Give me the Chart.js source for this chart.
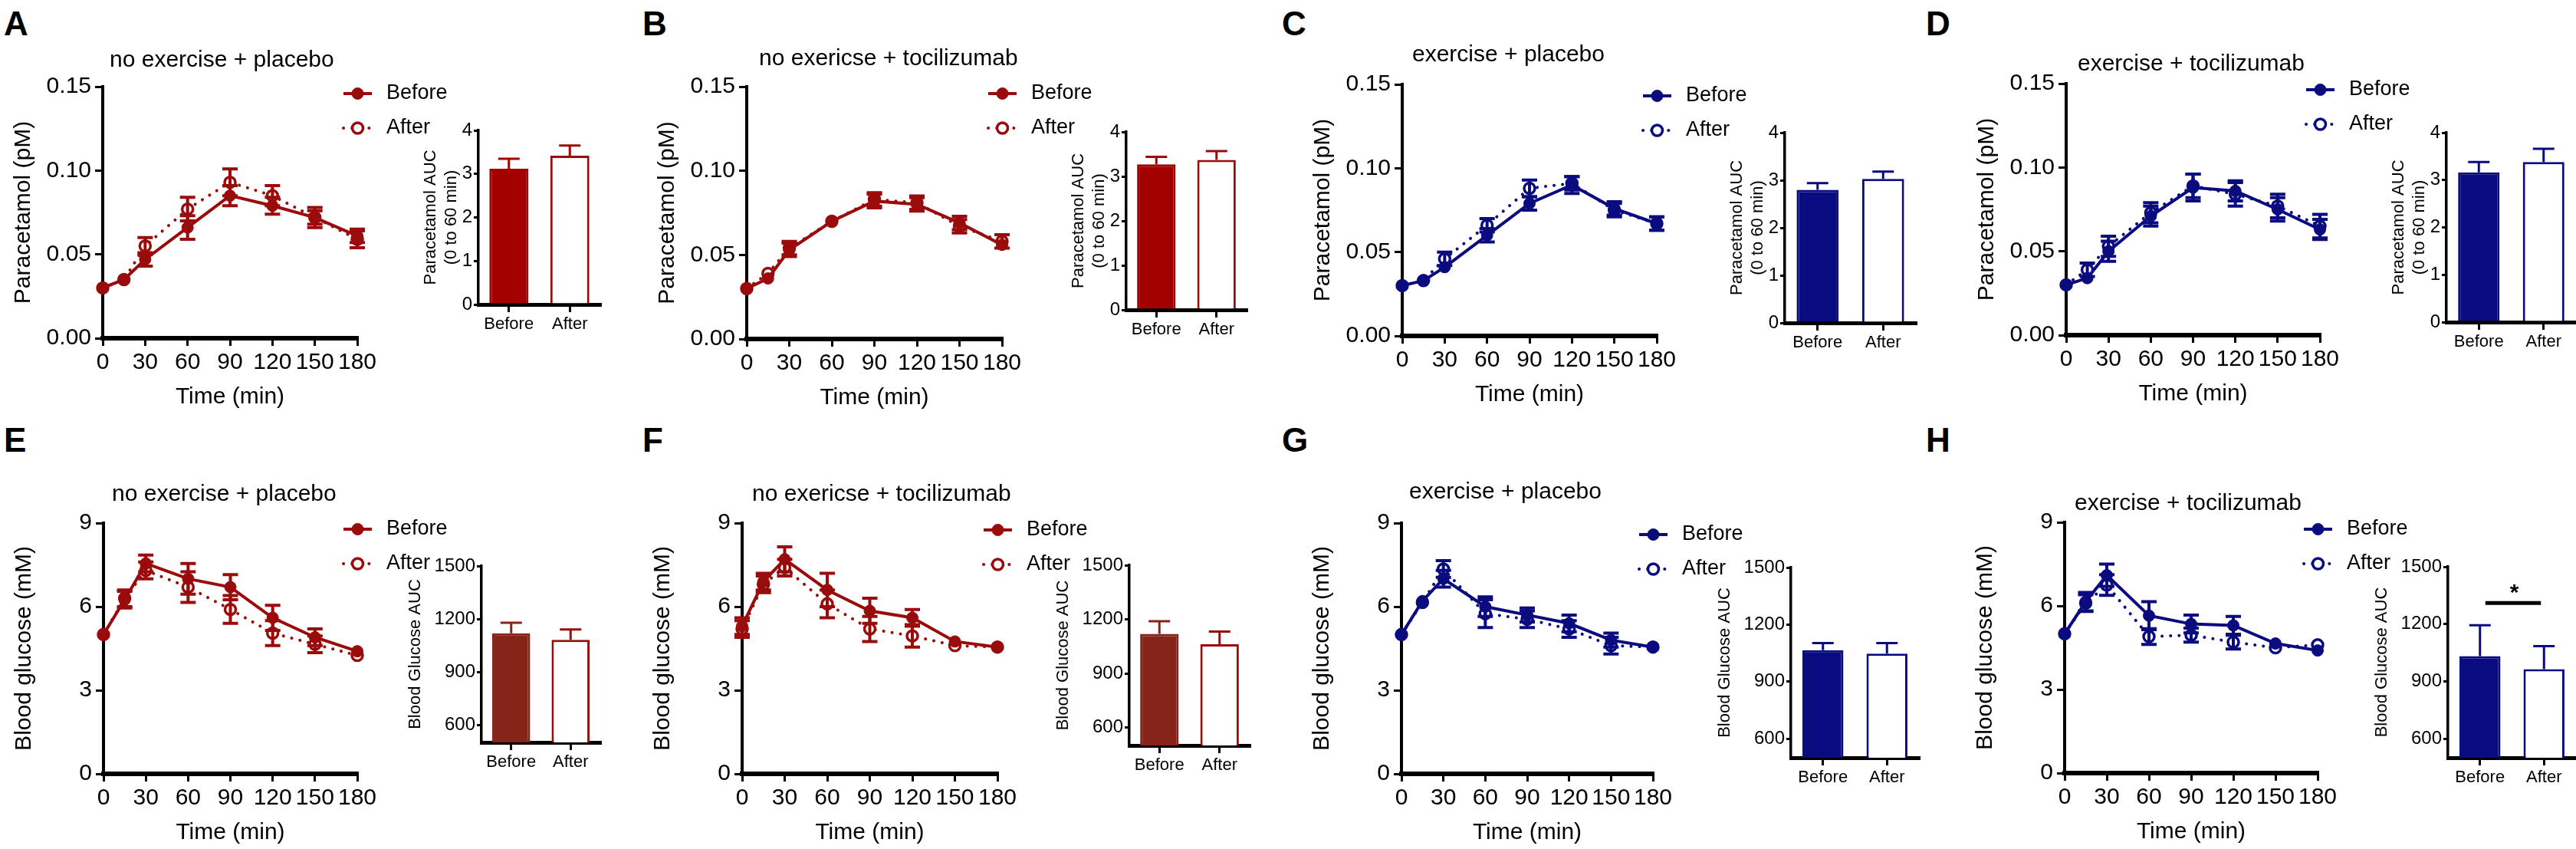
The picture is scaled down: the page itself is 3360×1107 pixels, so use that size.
<!DOCTYPE html>
<html>
<head>
<meta charset="utf-8">
<script src="https://cdn.jsdelivr.net/npm/chart.js@4.4.1/dist/chart.umd.min.js"></script>
<style>
  html, body { margin: 0; padding: 0; background: #fff; }
  #fig { position: relative; width: 3360px; height: 1107px; overflow: hidden; background: #fff;
         font-family: "Liberation Sans", Arial, sans-serif; color: #000; }
  #fig canvas { position: absolute; }
  .letter { position: absolute; font-weight: bold; font-size: 44px; line-height: 44px; }
  .title { position: absolute; font-size: 30px; line-height: 30px; white-space: nowrap; }
</style>
</head>
<body>
<div id="fig"></div>
<script>
// shared axes
const timePoints = [0, 15, 30, 60, 90, 120, 150, 180];
const timeTicks = [0, 30, 60, 90, 120, 150, 180];
const groupLabels = ['Before', 'After'];
const paraTicks = [0, 0.05, 0.10, 0.15];
const glucoseTicks = [0, 3, 6, 9];
const paraAucTicks = [0, 1, 2, 3, 4];
const glucoseAucTicks = [600, 900, 1200, 1500];

const panelLetters = ['A', 'B', 'C', 'D', 'E', 'F', 'G', 'H'];
const panelTitles = [
  'no exercise + placebo', 'no exericse + tocilizumab', 'exercise + placebo', 'exercise + tocilizumab',
  'no exercise + placebo', 'no exericse + tocilizumab', 'exercise + placebo', 'exercise + tocilizumab'
];

// paracetamol (pM), mean and SEM
const paraA_before = [0.030, 0.035, 0.047, 0.066, 0.085, 0.079, 0.072, 0.061];
const paraA_beforeSem = [0.001, 0.002, 0.004, 0.007, 0.006, 0.005, 0.006, 0.004];
const paraA_after = [0.030, 0.035, 0.055, 0.077, 0.093, 0.085, 0.072, 0.059];
const paraA_afterSem = [0.001, 0.002, 0.005, 0.007, 0.008, 0.006, 0.004, 0.005];

const paraB_before = [0.030, 0.036, 0.053, 0.070, 0.082, 0.080, 0.069, 0.056];
const paraB_beforeSem = [0.001, 0.003, 0.004, 0.003, 0.004, 0.004, 0.004, 0.003];
const paraB_after = [0.030, 0.039, 0.054, 0.070, 0.083, 0.081, 0.067, 0.058];
const paraB_afterSem = [0.001, 0.003, 0.004, 0.003, 0.004, 0.004, 0.004, 0.004];

const paraC_before = [0.030, 0.033, 0.041, 0.060, 0.079, 0.090, 0.076, 0.067];
const paraC_beforeSem = [0.001, 0.002, 0.003, 0.004, 0.004, 0.005, 0.004, 0.004];
const paraC_after = [0.030, 0.033, 0.046, 0.066, 0.088, 0.091, 0.075, 0.067];
const paraC_afterSem = [0.001, 0.002, 0.004, 0.004, 0.005, 0.004, 0.004, 0.004];

const paraD_before = [0.030, 0.034, 0.050, 0.071, 0.088, 0.086, 0.075, 0.063];
const paraD_beforeSem = [0.001, 0.003, 0.006, 0.006, 0.008, 0.006, 0.007, 0.006];
const paraD_after = [0.030, 0.039, 0.053, 0.073, 0.089, 0.084, 0.077, 0.065];
const paraD_afterSem = [0.001, 0.004, 0.006, 0.006, 0.007, 0.007, 0.007, 0.007];

// blood glucose (mM), mean and SEM
const gluE_before = [5.0, 6.25, 7.55, 7.0, 6.7, 5.6, 4.9, 4.4];
const gluE_beforeSem = [0.1, 0.3, 0.3, 0.55, 0.45, 0.45, 0.3, 0.2];
const gluE_after = [5.0, 6.3, 7.3, 6.7, 5.9, 5.05, 4.65, 4.25];
const gluE_afterSem = [0.1, 0.3, 0.3, 0.55, 0.5, 0.45, 0.3, 0.2];

const gluF_before = [5.3, 6.9, 7.7, 6.6, 5.85, 5.6, 4.75, 4.55];
const gluF_beforeSem = [0.3, 0.3, 0.45, 0.6, 0.45, 0.3, 0.2, 0.1];
const gluF_after = [5.2, 6.8, 7.4, 6.1, 5.2, 4.95, 4.6, 4.55];
const gluF_afterSem = [0.3, 0.3, 0.3, 0.5, 0.45, 0.4, 0.2, 0.1];

const gluG_before = [5.0, 6.2, 7.0, 6.0, 5.7, 5.4, 4.8, 4.55];
const gluG_beforeSem = [0.15, 0.2, 0.3, 0.35, 0.25, 0.3, 0.25, 0.1];
const gluG_after = [5.0, 6.15, 7.35, 5.75, 5.55, 5.2, 4.6, 4.55];
const gluG_afterSem = [0.15, 0.2, 0.3, 0.5, 0.3, 0.3, 0.3, 0.1];

const gluH_before = [5.0, 6.15, 7.1, 5.65, 5.35, 5.3, 4.65, 4.4];
const gluH_beforeSem = [0.1, 0.33, 0.4, 0.5, 0.32, 0.32, 0.2, 0.1];
const gluH_after = [5.0, 6.1, 6.75, 4.9, 4.95, 4.7, 4.5, 4.6];
const gluH_afterSem = [0.1, 0.3, 0.37, 0.28, 0.25, 0.25, 0.15, 0.1];

// AUC bars [Before, After] and SEM
const aucA = [3.12, 3.42], aucA_sem = [0.23, 0.23];
const aucB = [3.27, 3.37], aucB_sem = [0.17, 0.20];
const aucC = [2.80, 3.03], aucC_sem = [0.14, 0.15];
const aucD = [3.16, 3.38], aucD_sem = [0.22, 0.28];
const aucE = [1118, 1082], aucE_sem = [60, 58];
const aucF = [1119, 1062], aucF_sem = [70, 70];
const aucG = [1066, 1047], aucG_sem = [37, 56];
const aucH = [1032, 964], aucH_sem = [162, 120];
const sigH = { level: 1310, label: '*' };

const RED = '#9a0b0b', RED_BAR = '#a30000', BROWN_BAR = '#87241a', NAVY = '#0b0b80';
const FONT = '"Liberation Sans", Arial, sans-serif';
Chart.defaults.font.family = FONT;
Chart.defaults.color = '#000';

const panels = [
  { kind: 'para', color: RED, barFill: RED_BAR, before: paraA_before, beforeSem: paraA_beforeSem, after: paraA_after, afterSem: paraA_afterSem,
    auc: aucA, aucSem: aucA_sem, plot: [134, 466, 113, 441], bar: [624, 783, 170, 397], titleAt: [143, 87], letterAt: [5, 9], keyTop: 9 },
  { kind: 'para', color: RED, barFill: RED_BAR, before: paraB_before, beforeSem: paraB_beforeSem, after: paraB_after, afterSem: paraB_afterSem,
    auc: aucB, aucSem: aucB_sem, plot: [974, 1307, 113, 442], bar: [1469, 1626, 172, 404], titleAt: [990, 85], letterAt: [838, 9], keyTop: 9 },
  { kind: 'para', color: NAVY, barFill: NAVY, before: paraC_before, beforeSem: paraC_beforeSem, after: paraC_after, afterSem: paraC_afterSem,
    auc: aucC, aucSem: aucC_sem, plot: [1829, 2161, 110, 438], bar: [2328, 2499, 173, 421], titleAt: [1842, 80], letterAt: [1672, 9], keyTop: 15 },
  { kind: 'para', color: NAVY, barFill: NAVY, before: paraD_before, beforeSem: paraD_beforeSem, after: paraD_after, afterSem: paraD_afterSem,
    auc: aucD, aucSem: aucD_sem, plot: [2695, 3026, 109, 437], bar: [3191, 3360, 173, 420], titleAt: [2710, 92], letterAt: [2512, 9], keyTop: 8 },
  { kind: 'glu', color: RED, barFill: BROWN_BAR, before: gluE_before, beforeSem: gluE_beforeSem, after: gluE_after, afterSem: gluE_afterSem,
    auc: aucE, aucSem: aucE_sem, plot: [135, 466, 682, 1009], bar: [628, 783, 738, 968], titleAt: [146, 653], letterAt: [5, 552], keyTop: 8 },
  { kind: 'glu', color: RED, barFill: BROWN_BAR, before: gluF_before, beforeSem: gluF_beforeSem, after: gluF_after, afterSem: gluF_afterSem,
    auc: aucF, aucSem: aucF_sem, plot: [968, 1301, 682, 1009], bar: [1473, 1630, 737, 972], titleAt: [981, 653], letterAt: [838, 552], keyTop: 9 },
  { kind: 'glu', color: NAVY, barFill: NAVY, before: gluG_before, beforeSem: gluG_beforeSem, after: gluG_after, afterSem: gluG_afterSem,
    auc: aucG, aucSem: aucG_sem, plot: [1828, 2156, 682, 1009], bar: [2336, 2503, 740, 988], titleAt: [1838, 650], letterAt: [1672, 552], keyTop: 15 },
  { kind: 'glu', color: NAVY, barFill: NAVY, before: gluH_before, beforeSem: gluH_beforeSem, after: gluH_after, afterSem: gluH_afterSem,
    auc: aucH, aucSem: aucH_sem, sig: sigH, plot: [2693, 3023, 681, 1008], bar: [3193, 3360, 739, 988], titleAt: [2706, 665], letterAt: [2512, 552], keyTop: 9 }
];

const fig = document.getElementById('fig');

function makeCanvas(left, top, w, h) {
  const c = document.createElement('canvas');
  c.width = w; c.height = h;
  c.style.left = left + 'px'; c.style.top = top + 'px';
  c.style.width = w + 'px'; c.style.height = h + 'px';
  fig.appendChild(c);
  return c.getContext('2d');
}

function addText(cls, text, left, top) {
  const d = document.createElement('div');
  d.className = cls;
  d.textContent = text;
  d.style.left = left + 'px';
  d.style.top = top + 'px';
  fig.appendChild(d);
}

// mean ± SEM whiskers, up only for bars
const errorBarPlugin = {
  id: 'errorBars',
  afterDatasetsDraw(chart) {
    const { ctx } = chart;
    const yScale = chart.scales.y;
    const isBar = chart.config.type === 'bar';
    chart.data.datasets.forEach((ds, di) => {
      if (!ds.errorBars) return;
      const meta = chart.getDatasetMeta(di);
      ctx.save();
      ctx.lineWidth = isBar ? 3 : 4;
      meta.data.forEach((el, i) => {
        const raw = ds.data[i];
        const v = typeof raw === 'object' ? raw.y : raw;
        const e = ds.errorBars[i];
        const yTop = yScale.getPixelForValue(v + e);
        const yBot = isBar ? yScale.getPixelForValue(v) : yScale.getPixelForValue(v - e);
        if (!isBar && (yBot - yTop) / 2 < 8) return;
        const cap = isBar ? 14 : 10;
        ctx.strokeStyle = Array.isArray(ds.errorColor) ? ds.errorColor[i] : (ds.errorColor || ds.borderColor);
        ctx.beginPath();
        ctx.moveTo(el.x, yTop); ctx.lineTo(el.x, yBot);
        ctx.moveTo(el.x - cap, yTop); ctx.lineTo(el.x + cap, yTop);
        if (!isBar) { ctx.moveTo(el.x - cap, yBot); ctx.lineTo(el.x + cap, yBot); }
        ctx.stroke();
      });
      ctx.restore();
    });
  }
};

// Before / After key drawn next to the top of each line plot
const keyPlugin = {
  id: 'seriesKey',
  afterDraw(chart, args, opts) {
    const { ctx, chartArea } = chart;
    const x0 = chartArea.right - 18;
    chart.data.datasets.forEach((ds, i) => {
      const y = chartArea.top + (opts.top || 10) + i * 45;
      ctx.save();
      ctx.strokeStyle = ds.borderColor;
      ctx.lineWidth = 4;
      if (ds.borderDash) { ctx.setLineDash(ds.borderDash); ctx.lineCap = 'round'; }
      ctx.beginPath(); ctx.moveTo(x0, y); ctx.lineTo(x0 + 37, y); ctx.stroke();
      ctx.setLineDash([]);
      ctx.beginPath(); ctx.arc(x0 + 18.5, y, ds.pointRadius, 0, Math.PI * 2);
      ctx.fillStyle = ds.pointBackgroundColor; ctx.fill();
      ctx.lineWidth = ds.pointBorderWidth; ctx.strokeStyle = ds.pointBorderColor; ctx.stroke();
      ctx.fillStyle = '#000';
      ctx.font = '27px ' + FONT;
      ctx.textBaseline = 'middle';
      ctx.fillText(ds.label, x0 + 56, y);
      ctx.restore();
    });
  }
};

// significance bracket between the two bars
const sigPlugin = {
  id: 'sigBar',
  afterDraw(chart, args, opts) {
    if (!opts || !opts.label) return;
    const { ctx } = chart;
    const xs = chart.scales.x, ys = chart.scales.y;
    const y = ys.getPixelForValue(opts.level);
    ctx.save();
    ctx.strokeStyle = '#000'; ctx.lineWidth = 5;
    ctx.beginPath();
    ctx.moveTo(xs.getPixelForValue(0) + 7, y);
    ctx.lineTo(xs.getPixelForValue(1) - 4, y);
    ctx.stroke();
    ctx.fillStyle = '#000';
    ctx.font = 'bold 30px ' + FONT;
    ctx.textAlign = 'center';
    ctx.textBaseline = 'alphabetic';
    ctx.fillText(opts.label, (xs.getPixelForValue(0) + xs.getPixelForValue(1)) / 2 + 3, y - 4);
    ctx.restore();
  }
};

const Y_W = 134, X_H = 95, PAD_T = 30, PAD_R = 170;

function lineChart(p) {
  const [x0, x1, y0, y1] = p.plot;
  const isPara = p.kind === 'para';
  const ctx = makeCanvas(x0 - Y_W, y0 - PAD_T, x1 - x0 + Y_W + PAD_R, y1 - y0 + PAD_T + X_H);
  const pts = arr => timePoints.map((t, i) => ({ x: t, y: arr[i] }));
  new Chart(ctx, {
    type: 'line',
    data: {
      datasets: [
        { label: 'Before', data: pts(p.before), errorBars: p.beforeSem,
          borderColor: p.color, backgroundColor: p.color, borderWidth: 4,
          pointRadius: 7.5, pointBackgroundColor: p.color, pointBorderColor: p.color, pointBorderWidth: 1,
          tension: 0, clip: false },
        { label: 'After', data: pts(p.after), errorBars: p.afterSem,
          borderColor: p.color, backgroundColor: '#fff', borderWidth: 4,
          borderDash: [0.1, 11], borderCapStyle: 'round',
          pointRadius: 7, pointBackgroundColor: '#fff', pointBorderColor: p.color, pointBorderWidth: 3.5,
          tension: 0, clip: false }
      ]
    },
    options: {
      responsive: false, animation: false, devicePixelRatio: 1,
      layout: { padding: { top: PAD_T, right: PAD_R, left: 0, bottom: 0 } },
      plugins: { legend: { display: false }, tooltip: { enabled: false }, seriesKey: { top: p.keyTop } },
      scales: {
        x: {
          type: 'linear', min: 0, max: 180,
          afterBuildTicks: s => { s.ticks = timeTicks.map(v => ({ value: v })); },
          afterFit: s => { s.height = X_H; },
          border: { display: true, color: '#000', width: 6 },
          grid: { drawOnChartArea: false, drawTicks: true, tickLength: 10, color: '#000', lineWidth: 3 },
          ticks: { autoSkip: false, maxRotation: 0, padding: 4, color: '#000', font: { size: 30 }, callback: v => String(v) },
          title: { display: true, text: 'Time (min)', color: '#000', font: { size: 30 }, padding: { top: 0, bottom: 0 } }
        },
        y: {
          min: 0, max: isPara ? 0.15 : 9,
          afterBuildTicks: s => { s.ticks = (isPara ? paraTicks : glucoseTicks).map(v => ({ value: v })); },
          afterFit: s => { s.width = Y_W; },
          border: { display: true, color: '#000', width: 4 },
          grid: { drawOnChartArea: false, drawTicks: true, tickLength: 10, color: '#000', lineWidth: 3 },
          ticks: { padding: 5, color: '#000', font: { size: 30 }, callback: v => isPara ? v.toFixed(2) : String(v) },
          title: { display: true, text: isPara ? 'Paracetamol (pM)' : 'Blood glucose (mM)', color: '#000',
                   font: { size: 30 }, padding: { top: 13, bottom: 0 } }
        }
      }
    },
    plugins: [errorBarPlugin, keyPlugin]
  });
}

const BY_W = 110, BX_H = 60;

function barChart(p) {
  const [ax, ae, yT, yB] = p.bar;
  const isPara = p.kind === 'para';
  const ctx = makeCanvas(ax - BY_W, yT - 20, ae - ax + BY_W + 10, yB - yT + 20 + BX_H);
  new Chart(ctx, {
    type: 'bar',
    data: {
      labels: groupLabels,
      datasets: [{
        data: p.auc, errorBars: p.aucSem,
        backgroundColor: [p.barFill, '#fff'],
        borderColor: [p.barFill, p.color],
        errorColor: [p.barFill, p.color],
        borderWidth: 3,
        barPercentage: 0.64, categoryPercentage: 1
      }]
    },
    options: {
      responsive: false, animation: false, devicePixelRatio: 1,
      layout: { padding: { top: 20, right: 10, left: 0, bottom: 0 } },
      plugins: { legend: { display: false }, tooltip: { enabled: false }, sigBar: p.sig || {} },
      scales: {
        x: {
          afterFit: s => { s.height = BX_H; },
          border: { display: true, color: '#000', width: 5 },
          grid: { offset: false, drawOnChartArea: false, drawTicks: true, tickLength: 10, color: '#000', lineWidth: 3 },
          ticks: { padding: 3, color: '#000', font: { size: 22 } }
        },
        y: {
          min: isPara ? 0 : 500, max: isPara ? 4 : 1500,
          afterBuildTicks: s => { s.ticks = (isPara ? paraAucTicks : glucoseAucTicks).map(v => ({ value: v })); },
          afterFit: s => { s.width = BY_W; },
          border: { display: true, color: '#000', width: 3.5 },
          grid: { drawOnChartArea: false, drawTicks: true, tickLength: 6, color: '#000', lineWidth: 3 },
          ticks: { padding: 2, color: '#000', font: { size: 24 }, callback: v => String(v) },
          title: { display: true, text: isPara ? ['Paracetamol AUC', '(0 to 60 min)'] : 'Blood Glucose AUC',
                   color: '#000', font: { size: 22 }, padding: { top: isPara ? 35 : 11, bottom: 0 } }
        }
      }
    },
    plugins: [errorBarPlugin, sigPlugin]
  });
}

panels.forEach((p, i) => {
  barChart(p);
  lineChart(p);
  addText('letter', panelLetters[i], p.letterAt[0], p.letterAt[1]);
  addText('title', panelTitles[i], p.titleAt[0], p.titleAt[1] - 25);
});
</script>
</body>
</html>
